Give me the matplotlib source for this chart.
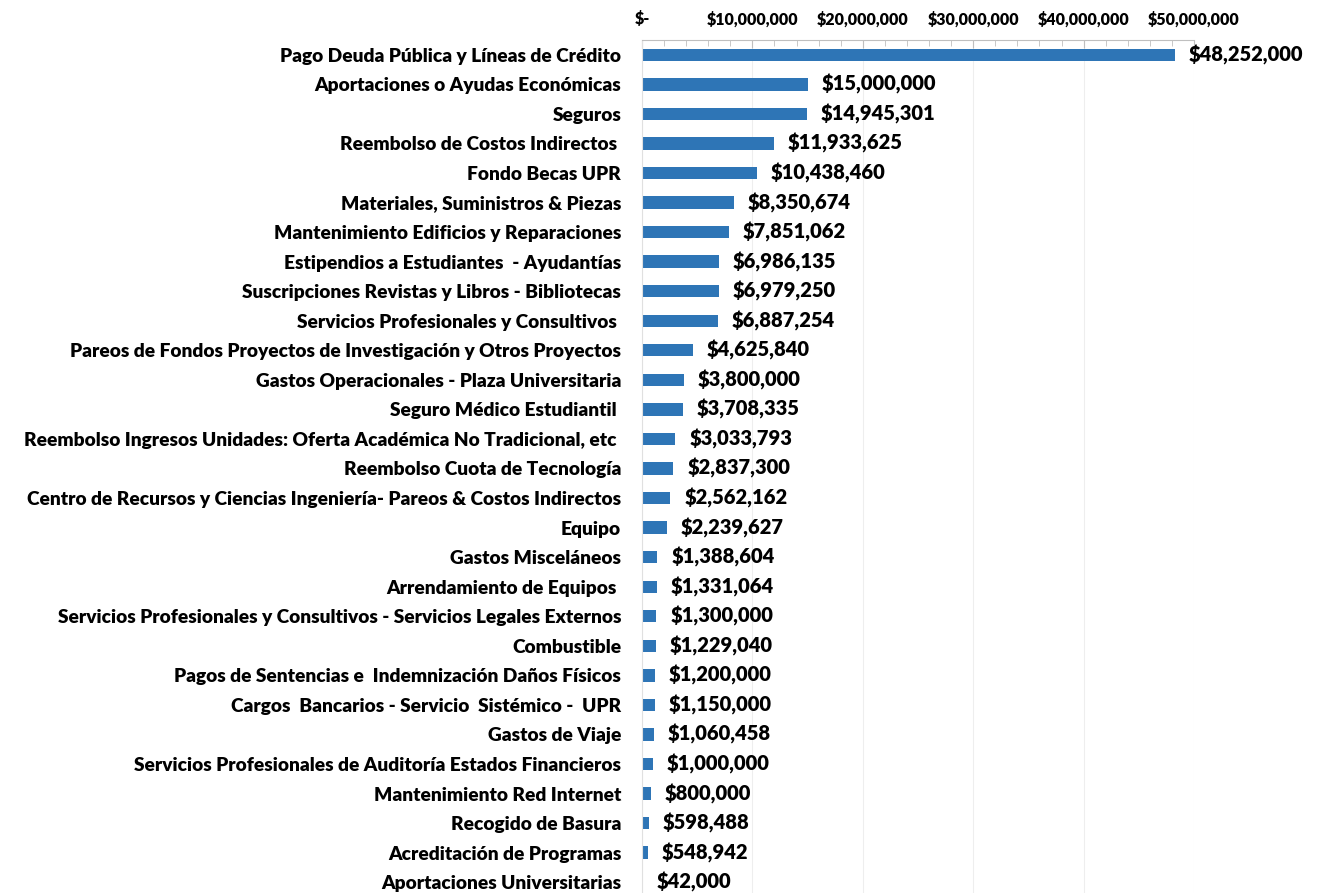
import matplotlib
matplotlib.use("Agg")
import matplotlib.pyplot as plt
from matplotlib.ticker import FuncFormatter, MultipleLocator

categories = [
    "Pago Deuda Pública y Líneas de Crédito",
    "Aportaciones o Ayudas Económicas",
    "Seguros",
    "Reembolso de Costos Indirectos ",
    "Fondo Becas UPR",
    "Materiales, Suministros & Piezas",
    "Mantenimiento Edificios y Reparaciones",
    "Estipendios a Estudiantes  - Ayudantías",
    "Suscripciones Revistas y Libros - Bibliotecas",
    "Servicios Profesionales y Consultivos ",
    "Pareos de Fondos Proyectos de Investigación y Otros Proyectos",
    "Gastos Operacionales - Plaza Universitaria",
    "Seguro Médico Estudiantil ",
    "Reembolso Ingresos Unidades: Oferta Académica No Tradicional, etc ",
    "Reembolso Cuota de Tecnología",
    "Centro de Recursos y Ciencias Ingeniería- Pareos & Costos Indirectos",
    "Equipo",
    "Gastos Misceláneos",
    "Arrendamiento de Equipos ",
    "Servicios Profesionales y Consultivos - Servicios Legales Externos",
    "Combustible",
    "Pagos de Sentencias e  Indemnización Daños Físicos",
    "Cargos  Bancarios - Servicio  Sistémico -  UPR",
    "Gastos de Viaje",
    "Servicios Profesionales de Auditoría Estados Financieros",
    "Mantenimiento Red Internet",
    "Recogido de Basura",
    "Acreditación de Programas",
    "Aportaciones Universitarias",
]
values = [48252000, 15000000, 14945301, 11933625, 10438460, 8350674, 7851062,
          6986135, 6979250, 6887254, 4625840, 3800000, 3708335, 3033793,
          2837300, 2562162, 2239627, 1388604, 1331064, 1300000, 1229040,
          1200000, 1150000, 1060458, 1000000, 800000, 598488, 548942, 42000]

fam = ["Lato", "DejaVu Sans"]
plt.rcParams["font.family"] = fam
wt = "heavy"

fig = plt.figure(figsize=(13.17, 8.93), dpi=100)
ax = fig.add_axes([642 / 1317, -4 / 893, (1194 - 642) / 1317, (897 - 40) / 893])

pos = list(range(len(values)))
ax.barh(pos, values, height=0.42, color="#2E75B6")
ax.set_ylim(len(values) - 0.5, -0.5)
ax.set_xlim(0, 50000000)

for p, v in zip(pos, values):
    ax.text(v + 1250000, p, "${:,}".format(v), va="center", ha="left",
            fontsize=14.5, fontweight=wt, color="black")

ax.set_yticks(pos)
ax.set_yticklabels(categories, fontsize=13.8, fontweight=wt)
ax.tick_params(axis="y", length=0, pad=15)

ax.xaxis.tick_top()
ax.xaxis.set_major_locator(MultipleLocator(10000000))
ax.xaxis.set_minor_locator(MultipleLocator(2000000))
ax.xaxis.set_major_formatter(FuncFormatter(
    lambda x, _: "$-" if x == 0 else "${:,.0f}".format(x)))
ax.tick_params(axis="x", which="both", direction="in", color="#BFBFBF",
               labelsize=11.5, pad=9)
ax.tick_params(axis="x", which="major", length=6)
ax.tick_params(axis="x", which="minor", length=4)
for lbl in ax.get_xticklabels():
    lbl.set_fontweight(wt)

ax.grid(axis="x", color="#EEEEEE", linewidth=0.8)
ax.set_axisbelow(True)
for s in ["right", "bottom"]:
    ax.spines[s].set_visible(False)
ax.spines["top"].set_color("#BFBFBF")
ax.spines["left"].set_color("#E0E0E0")

fig.savefig("out.png", dpi=100)
